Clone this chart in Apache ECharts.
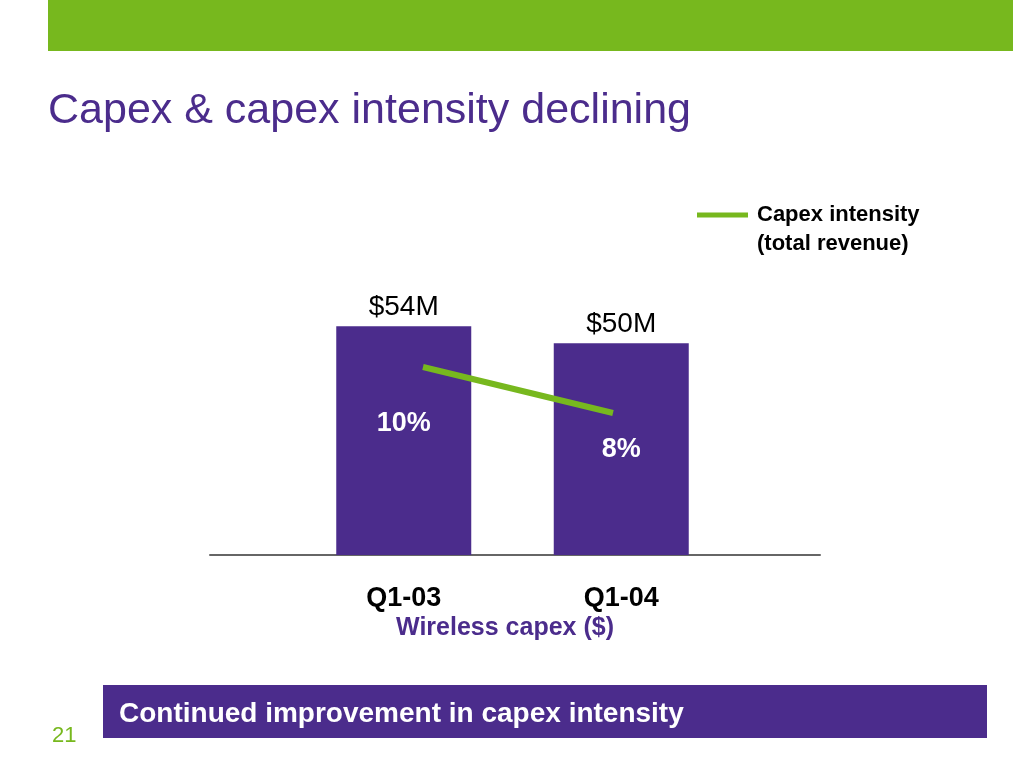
<!DOCTYPE html>
<html>
<head>
<meta charset="utf-8">
<script src="https://cdn.jsdelivr.net/npm/echarts@6/dist/echarts.min.js"></script>
<style>html,body{margin:0;padding:0;background:#fff}#c{width:1024px;height:768px}</style>
</head>
<body>
<div id="c"></div>
<script>
var categories = ['Q1-03', 'Q1-04'];
var capexValues = [54, 50];
var capexLabels = ['$54M', '$50M'];
var intensityValues = [10, 8];
var intensityLabels = ['10%', '8%'];

var PURPLE = '#4B2C8C';
var GREEN = '#77B81E';
var FONT = 'Liberation Sans, Arial, sans-serif';

var chart = echarts.init(document.getElementById('c'));
chart.setOption({
  backgroundColor: '#fff',
  animation: false,
  graphic: [
    { type: 'rect', left: 48, top: 0, shape: { width: 965, height: 51 }, style: { fill: GREEN } },
    { type: 'rect', left: 103, top: 685, shape: { width: 884, height: 53 }, style: { fill: PURPLE } }
  ],
  title: [
    { text: 'Capex & capex intensity declining', left: 43, top: 85,
      textStyle: { color: PURPLE, fontSize: 43, fontWeight: 'normal', fontFamily: FONT } },
    { text: 'Continued improvement in capex intensity', left: 114, top: 695,
      textStyle: { color: '#fff', fontSize: 28, fontWeight: 'bold', fontFamily: FONT } },
    { text: '21', left: 47, top: 720,
      textStyle: { color: GREEN, fontSize: 22, fontWeight: 'normal', fontFamily: FONT } },
    { text: '(total revenue)', left: 752, top: 228,
      textStyle: { color: '#000', fontSize: 22, fontWeight: 'bold', fontFamily: FONT } }
  ],
  legend: {
    data: ['Capex intensity'],
    left: 697, top: 204, padding: 0,
    icon: 'rect', itemWidth: 51, itemHeight: 5, itemGap: 8,
    textStyle: { color: '#000', fontSize: 22, fontWeight: 'bold', fontFamily: FONT, padding: [0, 0, 0, 4] }
  },
  grid: [
    { left: 295, right: 294, top: 303, bottom: 213 },
    { left: 210, right: 204, top: 303, bottom: 213 },
    { left: 423, right: 411, top: 321, bottom: 171 }
  ],
  xAxis: [
    { type: 'category', gridIndex: 0, data: categories,
      axisLine: { show: false }, axisTick: { show: false },
      axisLabel: { color: '#000', fontSize: 27, fontWeight: 'bold', fontFamily: FONT, margin: 30 },
      name: 'Wireless capex ($)', nameLocation: 'middle', nameGap: 61,
      nameTextStyle: { color: PURPLE, fontSize: 25, fontWeight: 'bold', fontFamily: FONT, padding: [0, 15, 0, 0] } },
    { type: 'category', gridIndex: 1, data: [''],
      axisLine: { show: true, lineStyle: { color: '#666', width: 2 } },
      axisTick: { show: false }, axisLabel: { show: false } },
    { type: 'category', gridIndex: 2, data: categories, boundaryGap: false,
      show: false }
  ],
  yAxis: [
    { type: 'value', gridIndex: 0, min: 0, max: 59.5, show: false },
    { type: 'value', gridIndex: 0, min: 0, max: 19.1, show: false },
    { type: 'value', gridIndex: 1, min: 0, max: 1, show: false },
    { type: 'value', gridIndex: 2, min: 0, max: 12, show: false }
  ],
  series: [
    { type: 'bar', name: 'Wireless capex', xAxisIndex: 0, yAxisIndex: 0,
      data: capexValues, barWidth: 135,
      itemStyle: { color: PURPLE },
      label: { show: true, position: 'top', distance: 5,
        formatter: function (p) { return capexLabels[p.dataIndex]; },
        color: '#000', fontSize: 28, fontFamily: FONT } },
    { type: 'line', name: 'Capex intensity', xAxisIndex: 2, yAxisIndex: 3,
      data: intensityValues, symbol: 'none',
      lineStyle: { color: GREEN, width: 6 }, itemStyle: { color: GREEN }, z: 5 },
    { type: 'scatter', name: 'Intensity label', xAxisIndex: 0, yAxisIndex: 1,
      data: intensityValues, symbolSize: 1, itemStyle: { color: 'rgba(0,0,0,0)', opacity: 1 },
      label: { show: true, position: 'inside', opacity: 1,
        formatter: function (p) { return intensityLabels[p.dataIndex]; },
        color: '#ffffff', fontSize: 27, fontWeight: 'bold', fontFamily: FONT }, z: 6,
      emphasis: { disabled: true } }
  ]
});
</script>
</body>
</html>
